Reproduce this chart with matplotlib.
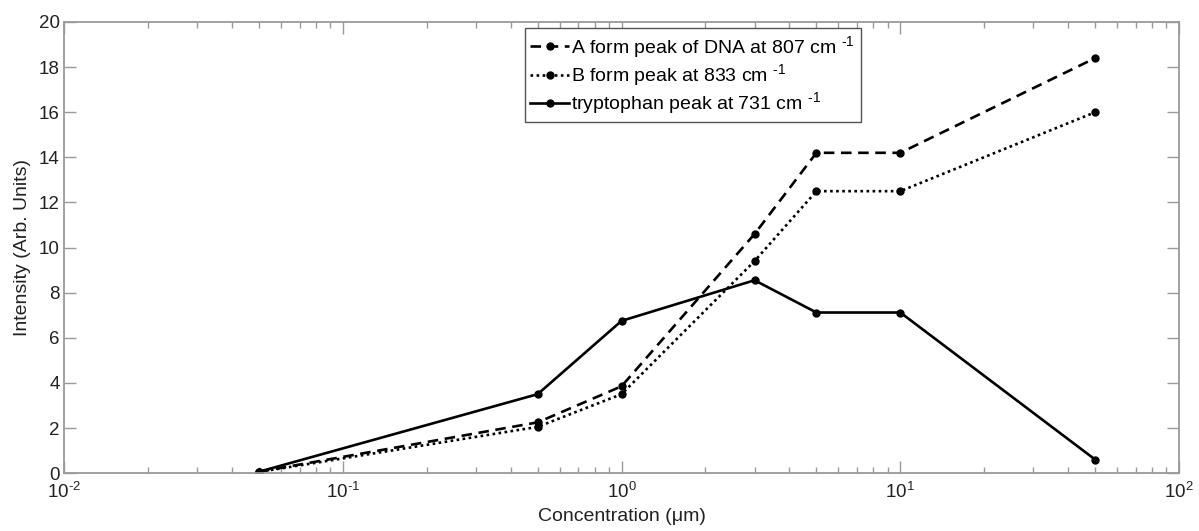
import numpy as np
import matplotlib.pyplot as plt

plt.rcParams['font.family'] = ['Liberation Sans', 'DejaVu Sans']
plt.rcParams['mathtext.fontset'] = 'custom'
plt.rcParams['mathtext.rm'] = 'Liberation Sans'
plt.rcParams['mathtext.it'] = 'Liberation Sans'

# concentration (um)
conc = [0.05, 0.5, 1, 3, 5, 10, 50]
a_form = [0.06, 2.25, 3.85, 10.6, 14.2, 14.2, 18.4]
b_form = [0.05, 2.05, 3.5, 9.4, 12.5, 12.5, 16.0]
trp = [0.06, 3.5, 6.75, 8.55, 7.12, 7.12, 0.6]

labels = [r'A form peak of DNA at 807 cm $^{\text{-}1}$',
          r'B form peak at 833 cm $^{\text{-}1}$',
          r'tryptophan peak at 731 cm $^{\text{-}1}$']

fig = plt.figure(figsize=(11.99, 5.31), dpi=100)
ax = fig.add_axes([0.0534, 0.109, 0.93, 0.8496])

lw = 1.9
ax.plot(conc, a_form, color='k', ls=(0, (4, 2.5)), lw=lw, marker='o', ms=5, label=labels[0])
ax.plot(conc, b_form, color='k', ls=(0, (1, 1.3)), lw=lw, marker='o', ms=5, label=labels[1])
ax.plot(conc, trp, color='k', ls='-', lw=lw, marker='o', ms=5, label=labels[2])

ax.set_xscale('log')
ax.set_xlim(1e-2, 1e2)
ax.set_ylim(0, 20)
ax.set_yticks(np.arange(0, 21, 2))
ax.set_xticks([1e-2, 1e-1, 1, 1e1, 1e2])
ax.set_xticklabels([r'$10^{\text{-}2}$', r'$10^{\text{-}1}$', r'$10^{0}$', r'$10^{1}$', r'$10^{2}$'])

grey = '#9a9a9a'
for s in ax.spines.values():
    s.set_color(grey)
    s.set_linewidth(1.3)
ax.tick_params(which='both', direction='in', top=True, right=True, color=grey,
               labelsize=13.5, labelcolor='#222222')
ax.tick_params(which='major', length=8.5, width=1)
ax.tick_params(which='minor', length=4.5, width=1)
ax.tick_params(axis='x', pad=6)
ax.tick_params(axis='y', pad=3)

ax.set_xlabel('Concentration (μm)', fontsize=14, color='#222222', labelpad=5)
ax.set_ylabel('Intensity (Arb. Units)', fontsize=14, color='#222222', labelpad=6)

leg = ax.legend(loc='upper left', bbox_to_anchor=(0.413, 0.986), fontsize=14,
                frameon=True, fancybox=False, framealpha=1, edgecolor='#555555',
                handlelength=2.0, handletextpad=0.1, borderpad=0.3, labelspacing=0.12,
                borderaxespad=0)
leg.get_frame().set_linewidth(1)

fig.savefig('out.png', dpi=100)
